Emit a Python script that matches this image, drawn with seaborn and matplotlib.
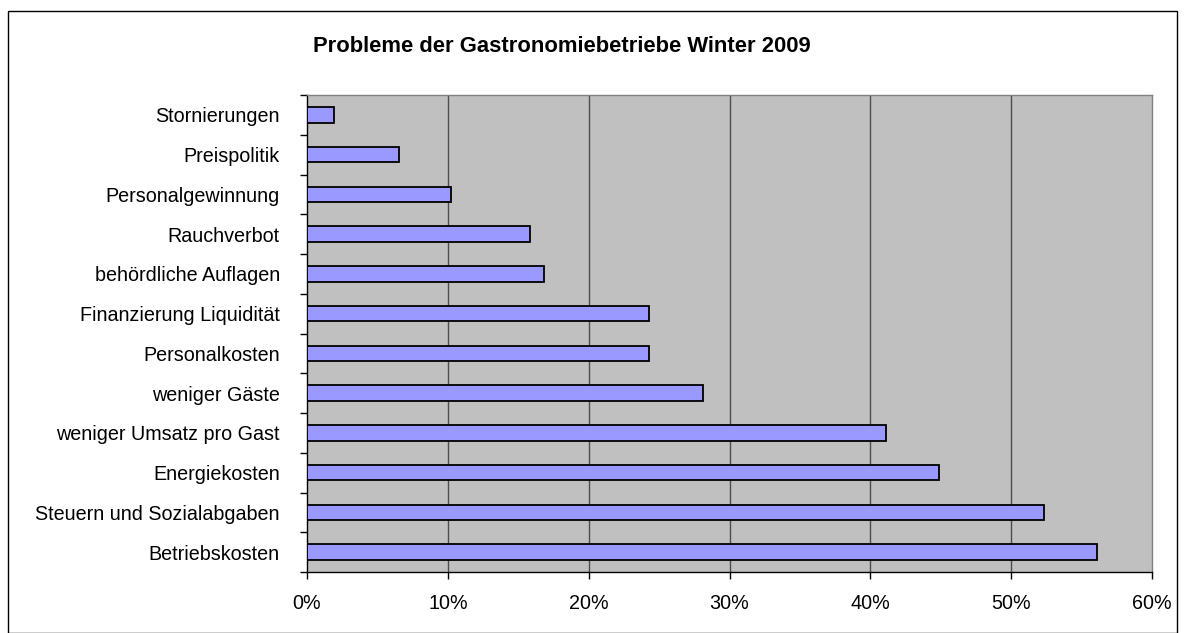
import matplotlib
matplotlib.use("Agg")
import matplotlib.pyplot as plt
import seaborn as sns
import pandas as pd
import numpy as np
from matplotlib.ticker import FuncFormatter, FixedLocator
from matplotlib.patches import Rectangle

categories = ["Stornierungen", "Preispolitik", "Personalgewinnung", "Rauchverbot",
              "behördliche Auflagen", "Finanzierung Liquidität", "Personalkosten",
              "weniger Gäste", "weniger Umsatz pro Gast", "Energiekosten",
              "Steuern und Sozialabgaben", "Betriebskosten"]
values = [1.9, 6.5, 10.2, 15.8, 16.8, 24.3, 24.3, 28.1, 41.1, 44.9, 52.3, 56.1]
x_ticks = [0, 10, 20, 30, 40, 50, 60]
title = "Probleme der Gastronomiebetriebe Winter 2009"

df = pd.DataFrame({"Problem": categories, "Anteil": values})

sns.set_theme(style="white")
plt.rcParams['font.family'] = ['Liberation Sans', 'DejaVu Sans']

fig = plt.figure(figsize=(11.84, 6.33), dpi=100)
ax = fig.add_axes([307/1184, 1-572/633, (1152-307)/1184, (572-95)/633])

ax.set_facecolor("#C0C0C0")
sns.barplot(data=df, x="Anteil", y="Problem", order=categories, orient="h",
            color="#9999FF", width=0.39, edgecolor="black", linewidth=1.3,
            saturation=1, ax=ax, zorder=3)

ax.set_xlim(0, 60)
ax.set_ylim(len(categories) - 0.5, -0.5)
ax.xaxis.set_major_locator(FixedLocator(x_ticks))
ax.xaxis.set_major_formatter(FuncFormatter(lambda v, p: f"{int(v)}%"))
for xv in x_ticks[1:-1]:
    ax.axvline(xv, color="#4d4d4d", linewidth=1.0, zorder=1)

ax.set_xlabel("")
ax.set_ylabel("")

# y ticks: labels at centers, tick marks at boundaries
ax.set_yticks(np.arange(len(categories)))
ax.set_yticklabels(categories)
ax.set_yticks(np.arange(len(categories) + 1) - 0.5, minor=True)
ax.tick_params(axis="y", which="major", length=0, pad=19.5, labelsize=14.2, labelcolor="black")
ax.tick_params(axis="y", which="minor", length=5, width=1, color="black", direction="out", left=True)
ax.tick_params(axis="x", which="major", length=5, width=1, color="black", direction="out",
               bottom=True, pad=11, labelsize=14.2, labelcolor="black")

for s in ["left", "bottom"]:
    ax.spines[s].set_color("black")
    ax.spines[s].set_linewidth(1.0)
for s in ["top", "right"]:
    ax.spines[s].set_color("#808080")
    ax.spines[s].set_linewidth(1.0)

fig.text(562/1184, 1-47/633, title, ha="center", va="center",
         fontsize=15.8, fontweight="bold", color="black")

fig.patches.append(Rectangle((8/1184, 0.5/633), (1177-8)/1184, (633-11-0.5)/633,
                             transform=fig.transFigure, fill=False,
                             edgecolor="black", linewidth=1.0, zorder=0))

fig.savefig("out.png", dpi=100, facecolor="white")
